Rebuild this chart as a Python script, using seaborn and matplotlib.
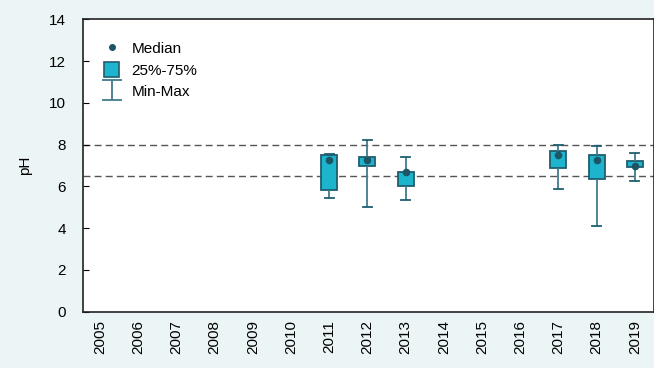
import numpy as np
import pandas as pd
import matplotlib
matplotlib.use('Agg')
import matplotlib.pyplot as plt
import seaborn as sns
from matplotlib.lines import Line2D
from matplotlib.patches import Patch
from matplotlib.path import Path

# ---- data ----
years = [str(y) for y in range(2005, 2020)]
data_years = ['2011', '2012', '2013', '2017', '2018', '2019']
ph_min = [5.43, 4.99, 5.34, 5.88, 4.09, 6.27]
ph_q1 = [5.80, 6.97, 6.01, 6.89, 6.34, 6.94]
ph_med = [7.27, 7.27, 6.68, 7.48, 7.27, 6.98]
ph_q3 = [7.48, 7.38, 6.70, 7.70, 7.48, 7.19]
ph_max = [7.56, 8.21, 7.40, 7.96, 7.94, 7.59]
limits = [8.0, 6.5]

bg = '#ecf5f6'
box_face = '#1db4ce'
box_edge = '#1f5e6e'
whisk = '#3f7b8b'
dot = '#1d5566'

plt.rcParams['font.family'] = ['Liberation Sans', 'DejaVu Sans']
plt.rcParams['font.size'] = 11

# 5 points per year -> quartiles land exactly on q1/q3, whiskers at min/max
rows = []
for i, y in enumerate(data_years):
    for v in [ph_min[i], ph_q1[i], ph_med[i], ph_q3[i], ph_max[i]]:
        rows.append({'year': y, 'pH': v})
df = pd.DataFrame(rows)
med_df = pd.DataFrame({'year': data_years, 'pH': ph_med})

fig = plt.figure(figsize=(6.54, 3.68), dpi=100, facecolor=bg)
ax = fig.add_axes([82.7 / 654, 1 - 311.5 / 368, 1 - 82.7 / 654, 292.2 / 368])
ax.set_facecolor('white')

sns.boxplot(data=df, x='year', y='pH', order=years, whis=(0, 100), showfliers=False,
            width=0.42, color=box_face, linewidth=1.3, ax=ax,
            boxprops=dict(facecolor=box_face, edgecolor=box_edge),
            whiskerprops=dict(color=whisk, linewidth=1.3),
            capprops=dict(color=box_edge, linewidth=1.3),
            medianprops=dict(visible=False), capwidths=0.23)
sns.stripplot(data=med_df, x='year', y='pH', order=years, jitter=False,
              color=dot, size=5.5, ax=ax, zorder=5)

for lv in limits:
    ax.axhline(lv, color='#555555', linestyle=(0, (5, 3)), linewidth=1.0, zorder=0.5)

ax.set_xlim(-0.45, 14.5)
ax.set_ylim(0, 14)
ax.set_yticks(range(0, 15, 2))
ax.set_xlabel('')
ax.set_ylabel('pH', labelpad=12)
ax.tick_params(axis='x', rotation=90, length=0, pad=6)
ax.tick_params(axis='y', direction='in', length=4, pad=12)
for s in ax.spines.values():
    s.set_color('#222222')
    s.set_linewidth(1.2)

# legend
ibeam = Path([(-1, 1), (1, 1), (0, 1), (0, -1), (-1, -1), (1, -1)],
             [Path.MOVETO, Path.LINETO, Path.MOVETO, Path.LINETO, Path.MOVETO, Path.LINETO])
handles = [
    Line2D([], [], marker='o', color=dot, linestyle='none', markersize=4),
    Patch(facecolor=box_face, edgecolor=box_edge, linewidth=1.2),
    Line2D([], [], marker=ibeam, color=whisk, linestyle='none', markersize=15, markeredgewidth=1.3),
]
ax.legend(handles, ['Median', '25%-75%', 'Min-Max'], loc='upper left',
          bbox_to_anchor=(0.013, 0.975), frameon=False, handlelength=1.0,
          handleheight=1.2, handletextpad=0.8, labelspacing=0.35, fontsize=11)

fig.savefig('out.png', dpi=100, facecolor=bg)
